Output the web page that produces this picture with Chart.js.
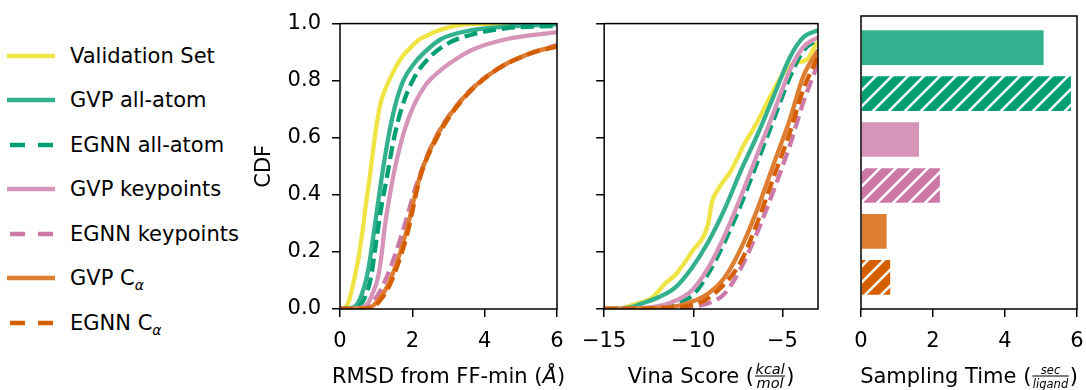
<!DOCTYPE html>
<html>
<head>
<meta charset="utf-8">
<script src="https://cdn.jsdelivr.net/npm/chart.js@4.4.1/dist/chart.umd.min.js"></script>
<style>
  body { margin: 0; background: #fff; }
  #wrap { position: relative; width: 1086px; height: 390px; font-family: 'DejaVu Sans'; color: #000; overflow: hidden; }
  canvas { position: absolute; top: 0; }
  .leg { position: absolute; left: 0; height: 26px; display: flex; align-items: center; font-size: 21px; white-space: nowrap; }
  .leg svg { flex: none; }
  .sub { font-style: italic; font-size: 14px; position: relative; top: 5px; }
</style>
</head>
<body>
<div id="wrap">
  <div id="legend"></div>
  <canvas id="rmsdChart" width="320" height="390" style="left:250px"></canvas>
  <canvas id="vinaChart" width="250" height="390" style="left:580px"></canvas>
  <canvas id="timeChart" width="246" height="390" style="left:840px"></canvas>
</div>
<script>
// series (same order everywhere)
const seriesNames = ['Validation Set', 'GVP all-atom', 'EGNN all-atom', 'GVP keypoints', 'EGNN keypoints', 'GVP Cα', 'EGNN Cα'];
const seriesColors = ['#efe444', '#33b18f', '#009e73', '#d694b9', '#cc79a7', '#dd7e33', '#d55e00'];
const seriesDashed = [false, false, true, false, true, false, true];

// RMSD from FF-min CDF, [x, cdf]
const rmsdValidation = [[0,0],[0.15,0.005],[0.25,0.03],[0.35,0.08],[0.5,0.17],[0.63,0.28],[0.72,0.37],[0.81,0.45],[0.95,0.59],[1.05,0.675],[1.14,0.73],[1.25,0.77],[1.47,0.83],[1.7,0.88],[1.98,0.92],[2.2,0.945],[2.44,0.96],[2.7,0.975],[3.0,0.987],[3.3,0.995],[4,0.999],[6,1]];
const rmsdGvpAllAtom = [[0,0],[0.3,0.003],[0.49,0.02],[0.65,0.07],[0.77,0.13],[0.86,0.2],[0.95,0.28],[1.05,0.37],[1.14,0.45],[1.32,0.59],[1.52,0.71],[1.75,0.8],[2.05,0.86],[2.34,0.9],[2.8,0.946],[3.69,0.978],[4.62,0.99],[6,0.997]];
const rmsdEgnnAllAtom = [[0,0],[0.4,0.003],[0.6,0.02],[0.75,0.06],[0.87,0.12],[0.96,0.2],[1.05,0.28],[1.16,0.37],[1.28,0.45],[1.48,0.59],[1.72,0.71],[2.05,0.81],[2.5,0.885],[3.05,0.935],[3.69,0.963],[4.62,0.984],[6,0.992]];
const rmsdGvpKeypoints = [[0,0],[0.5,0.003],[0.77,0.02],[0.92,0.06],[1.05,0.11],[1.15,0.19],[1.23,0.28],[1.42,0.43],[1.65,0.565],[1.93,0.68],[2.34,0.78],[2.77,0.835],[3.2,0.875],[3.69,0.91],[4.62,0.946],[6,0.97]];
const rmsdEgnnKeypoints = [[0,0],[0.7,0.003],[0.95,0.03],[1.25,0.1],[1.55,0.2],[1.8,0.3],[2.1,0.43],[2.6,0.59],[3.4,0.74],[4.34,0.84],[5.26,0.895],[6,0.925]];
const rmsdGvpCa = [[0,0],[0.8,0.003],[1.05,0.03],[1.35,0.09],[1.8,0.255],[2.2,0.46],[2.65,0.6],[3.4,0.738],[4.34,0.84],[5.26,0.896],[6,0.922]];
const rmsdEgnnCa = [[0,0],[0.85,0.003],[1.11,0.03],[1.39,0.088],[1.85,0.258],[2.22,0.463],[2.68,0.6],[3.41,0.736],[4.34,0.839],[5.26,0.895],[6,0.92]];

// Vina score CDF, [x, cdf]
const vinaValidation = [[-15,0],[-14,0.003],[-13.4,0.015],[-12.3,0.04],[-11.56,0.09],[-11.0,0.12],[-10.08,0.2],[-9.16,0.3],[-8.95,0.375],[-8.6,0.42],[-7.87,0.486],[-7.14,0.577],[-6.4,0.656],[-5.66,0.747],[-4.93,0.827],[-4.38,0.86],[-3.64,0.873],[-3.08,0.93],[-3,0.935]];
const vinaGvpAllAtom = [[-15,0],[-13.5,0.006],[-12.85,0.02],[-11.92,0.042],[-11.0,0.076],[-10.08,0.144],[-9.16,0.235],[-8.24,0.35],[-7.32,0.486],[-6.4,0.61],[-5.48,0.747],[-4.56,0.884],[-3.82,0.952],[-3,0.977]];
const vinaEgnnAllAtom = [[-15,0],[-12.2,0.005],[-11.1,0.02],[-10.0,0.05],[-9.1,0.13],[-8.2,0.24],[-7.3,0.37],[-6.4,0.515],[-5.48,0.665],[-4.56,0.815],[-3.82,0.905],[-3,0.945]];
const vinaGvpKeypoints = [[-15,0],[-12.5,0.005],[-11.37,0.02],[-10.08,0.065],[-9.16,0.144],[-8.24,0.258],[-7.32,0.395],[-6.4,0.543],[-5.48,0.69],[-4.56,0.839],[-3.82,0.918],[-3,0.952]];
const vinaEgnnKeypoints = [[-15,0],[-11,0.004],[-9.16,0.02],[-8.24,0.054],[-7.32,0.144],[-6.4,0.27],[-5.48,0.417],[-4.56,0.577],[-3.82,0.725],[-3,0.86]];
const vinaGvpCa = [[-15,0],[-12,0.004],[-10.64,0.014],[-9.16,0.054],[-8.24,0.11],[-7.32,0.213],[-6.4,0.35],[-5.48,0.509],[-4.56,0.668],[-3.82,0.816],[-3,0.907]];
const vinaEgnnCa = [[-15,0],[-11.5,0.004],[-9.53,0.025],[-8.24,0.088],[-7.32,0.167],[-6.4,0.304],[-5.48,0.463],[-4.56,0.622],[-3.82,0.77],[-3,0.884]];

// sampling time (sec / ligand), models 1..6 of seriesNames
const samplingTime = [5.09, 5.85, 1.63, 2.21, 0.73, 0.83];

const rmsdTicks = [0, 2, 4, 6];
const vinaTicks = [-15, -10, -5];
const timeTicks = [0, 2, 4, 6];
const cdfTicks = [0, 0.2, 0.4, 0.6, 0.8, 1.0];

const rmsdSeries = [rmsdValidation, rmsdGvpAllAtom, rmsdEgnnAllAtom, rmsdGvpKeypoints, rmsdEgnnKeypoints, rmsdGvpCa, rmsdEgnnCa];
const vinaSeries = [vinaValidation, vinaGvpAllAtom, vinaEgnnAllAtom, vinaGvpKeypoints, vinaEgnnKeypoints, vinaGvpCa, vinaEgnnCa];

Chart.defaults.font.family = 'DejaVu Sans';
Chart.defaults.font.size = 21;
Chart.defaults.color = '#000';

const minus = v => (v < 0 ? '\u2212' + Math.abs(v) : String(v));

// full box around each plot
const frame = {
    id: 'frame',
    afterDraw(chart) {
        const { ctx, chartArea: a } = chart;
        ctx.save();
        ctx.strokeStyle = '#000';
        ctx.lineWidth = 1.5;
        ctx.strokeRect(a.left, a.top, a.right - a.left, a.bottom - a.top);
        ctx.restore();
    }
};

// x title built from parts: plain / italic text and small stacked fractions
const partTitle = {
    id: 'partTitle',
    afterDraw(chart, args, opts) {
        if (!opts.parts) return;
        const { ctx, chartArea: a } = chart;
        const fontOf = (size, italic) => `${italic ? 'italic ' : ''}${size}px 'DejaVu Sans'`;
        ctx.save();
        ctx.fillStyle = '#000';
        ctx.textBaseline = 'alphabetic';
        const widths = opts.parts.map(p => {
            if (p.num) {
                ctx.font = fontOf(p.size, true);
                return Math.max(ctx.measureText(p.num).width, ctx.measureText(p.den).width) + 3;
            }
            ctx.font = fontOf(21, p.italic);
            return ctx.measureText(p.text).width;
        });
        const total = widths.reduce((s, w) => s + w, 0);
        let x = (a.left + a.right) / 2 - total / 2;
        const base = opts.baseline;
        opts.parts.forEach((p, i) => {
            const w = widths[i];
            if (p.num) {
                ctx.font = fontOf(p.size, true);
                ctx.textAlign = 'center';
                ctx.fillText(p.num, x + w / 2, base - 9);
                ctx.fillText(p.den, x + w / 2, base + 5.5);
                ctx.fillRect(x + 1, base - 7, w - 2, 1);
            } else {
                ctx.font = fontOf(21, p.italic);
                ctx.textAlign = 'left';
                ctx.fillText(p.text, x, base);
            }
            x += w;
        });
        ctx.restore();
    }
};

function tickGrid() {
    return { display: true, drawOnChartArea: false, drawTicks: true, tickLength: 8, color: '#000', lineWidth: 1.5 };
}

function cdfDatasets(series) {
    return series.map((pts, i) => ({
        label: seriesNames[i],
        data: pts.map(p => ({ x: p[0], y: p[1] })),
        borderColor: seriesColors[i],
        borderWidth: 4.3,
        borderDash: seriesDashed[i] ? [13, 6] : [],
        borderCapStyle: 'butt',
        pointRadius: 0,
        cubicInterpolationMode: 'monotone',
        fill: false,
        clip: 0,
        order: 10 - i
    }));
}

function keepTicks(list) {
    return scale => { scale.ticks = list.map(v => ({ value: v })); };
}

// bottom axis; a tall line height pushes the labels down without widening the side padding
function xAxis(min, max, ticks) {
    return {
        type: 'linear',
        min: min,
        max: max,
        afterBuildTicks: keepTicks(ticks),
        afterFit: s => { s.height = 81; },
        grid: tickGrid(),
        border: { display: false },
        ticks: { padding: 2, maxRotation: 0, font: { lineHeight: 2.15 }, callback: v => minus(v) }
    };
}

function cdfOptions(cfg) {
    return {
        responsive: false,
        animation: false,
        events: [],
        layout: { padding: { top: 16, right: cfg.right, left: 0, bottom: 0 } },
        plugins: {
            legend: { display: false },
            tooltip: { enabled: false },
            partTitle: { parts: cfg.title, baseline: 382.5 }
        },
        scales: {
            x: xAxis(cfg.xmin, cfg.xmax, cfg.xticks),
            y: {
                type: 'linear',
                min: 0,
                max: 1,
                afterBuildTicks: keepTicks(cdfTicks),
                afterFit: s => { s.width = cfg.yw; },
                grid: tickGrid(),
                border: { display: false },
                ticks: { padding: 11, callback: v => (cfg.ylabels ? v.toFixed(1) : '') },
                title: { display: !!cfg.ytitle, text: cfg.ytitle || '', padding: { top: 2, bottom: 0 } }
            }
        }
    };
}

new Chart(document.getElementById('rmsdChart'), {
    type: 'line',
    data: { datasets: cdfDatasets(rmsdSeries) },
    options: cdfOptions({ xmin: 0, xmax: 6, xticks: rmsdTicks, right: 13, yw: 90, ylabels: true, ytitle: 'CDF',
        title: [{ text: 'RMSD from FF-min (' }, { text: 'Å', italic: true }, { text: ')' }] }),
    plugins: [frame, partTitle]
});

new Chart(document.getElementById('vinaChart'), {
    type: 'line',
    data: { datasets: cdfDatasets(vinaSeries) },
    options: cdfOptions({ xmin: -15, xmax: -3, xticks: vinaTicks, right: 12, yw: 21, ylabels: false,
        title: [{ text: 'Vina Score (' }, { num: 'kcal', den: 'mol', size: 14.5 }, { text: ')' }] }),
    plugins: [frame, partTitle]
});

// hatched fill for the EGNN bars
function hatch(color) {
    const c = document.createElement('canvas');
    c.width = 16; c.height = 16;
    const g = c.getContext('2d');
    g.fillStyle = color;
    g.fillRect(0, 0, 16, 16);
    g.strokeStyle = '#fff';
    g.lineWidth = 2.6;
    g.beginPath();
    g.moveTo(-2, 18); g.lineTo(18, -2);
    g.moveTo(-6, 6); g.lineTo(6, -6);
    g.moveTo(10, 22); g.lineTo(22, 10);
    g.stroke();
    return g.createPattern(c, 'repeat');
}

const barColors = samplingTime.map((v, i) => (seriesDashed[i + 1] ? hatch(seriesColors[i + 1]) : seriesColors[i + 1]));

new Chart(document.getElementById('timeChart'), {
    type: 'bar',
    data: {
        datasets: [{
            label: 'Sampling Time',
            data: samplingTime.map((v, i) => ({ x: v, y: i })),
            backgroundColor: barColors,
            borderColor: 'rgba(255,255,255,0.6)',
            borderWidth: 1,
            barThickness: 36
        }]
    },
    options: {
        indexAxis: 'y',
        responsive: false,
        animation: false,
        events: [],
        layout: { padding: { top: 16, right: 9, left: 0, bottom: 0 } },
        plugins: {
            legend: { display: false },
            tooltip: { enabled: false },
            partTitle: { parts: [{ text: 'Sampling Time (' }, { num: 'sec', den: 'ligand', size: 11.5 }, { text: ')' }], baseline: 382.5 }
        },
        scales: {
            x: xAxis(0, 6, timeTicks),
            y: {
                type: 'linear',
                min: -0.69,
                max: 5.69,
                offset: false,
                reverse: true,
                afterFit: s => { s.width = 21; },
                grid: { display: false },
                border: { display: false },
                ticks: { display: false }
            }
        }
    },
    plugins: [frame, partTitle]
});

// legend on the left
const legendEl = document.getElementById('legend');
seriesNames.forEach((name, i) => {
    const row = document.createElement('div');
    row.className = 'leg';
    row.style.top = (55.7 + i * 44.5 - 13) + 'px';
    const line = seriesDashed[i]
        ? `<line x1="10" y1="5" x2="53" y2="5" stroke="${seriesColors[i]}" stroke-width="4.5" stroke-dasharray="15 13"/>`
        : `<line x1="7" y1="5" x2="55" y2="5" stroke="${seriesColors[i]}" stroke-width="4.5"/>`;
    const text = name.replace('Cα', 'C<span class="sub">α</span>');
    row.innerHTML = `<svg width="70" height="10">${line}</svg><span>${text}</span>`;
    legendEl.appendChild(row);
});
</script>
</body>
</html>
